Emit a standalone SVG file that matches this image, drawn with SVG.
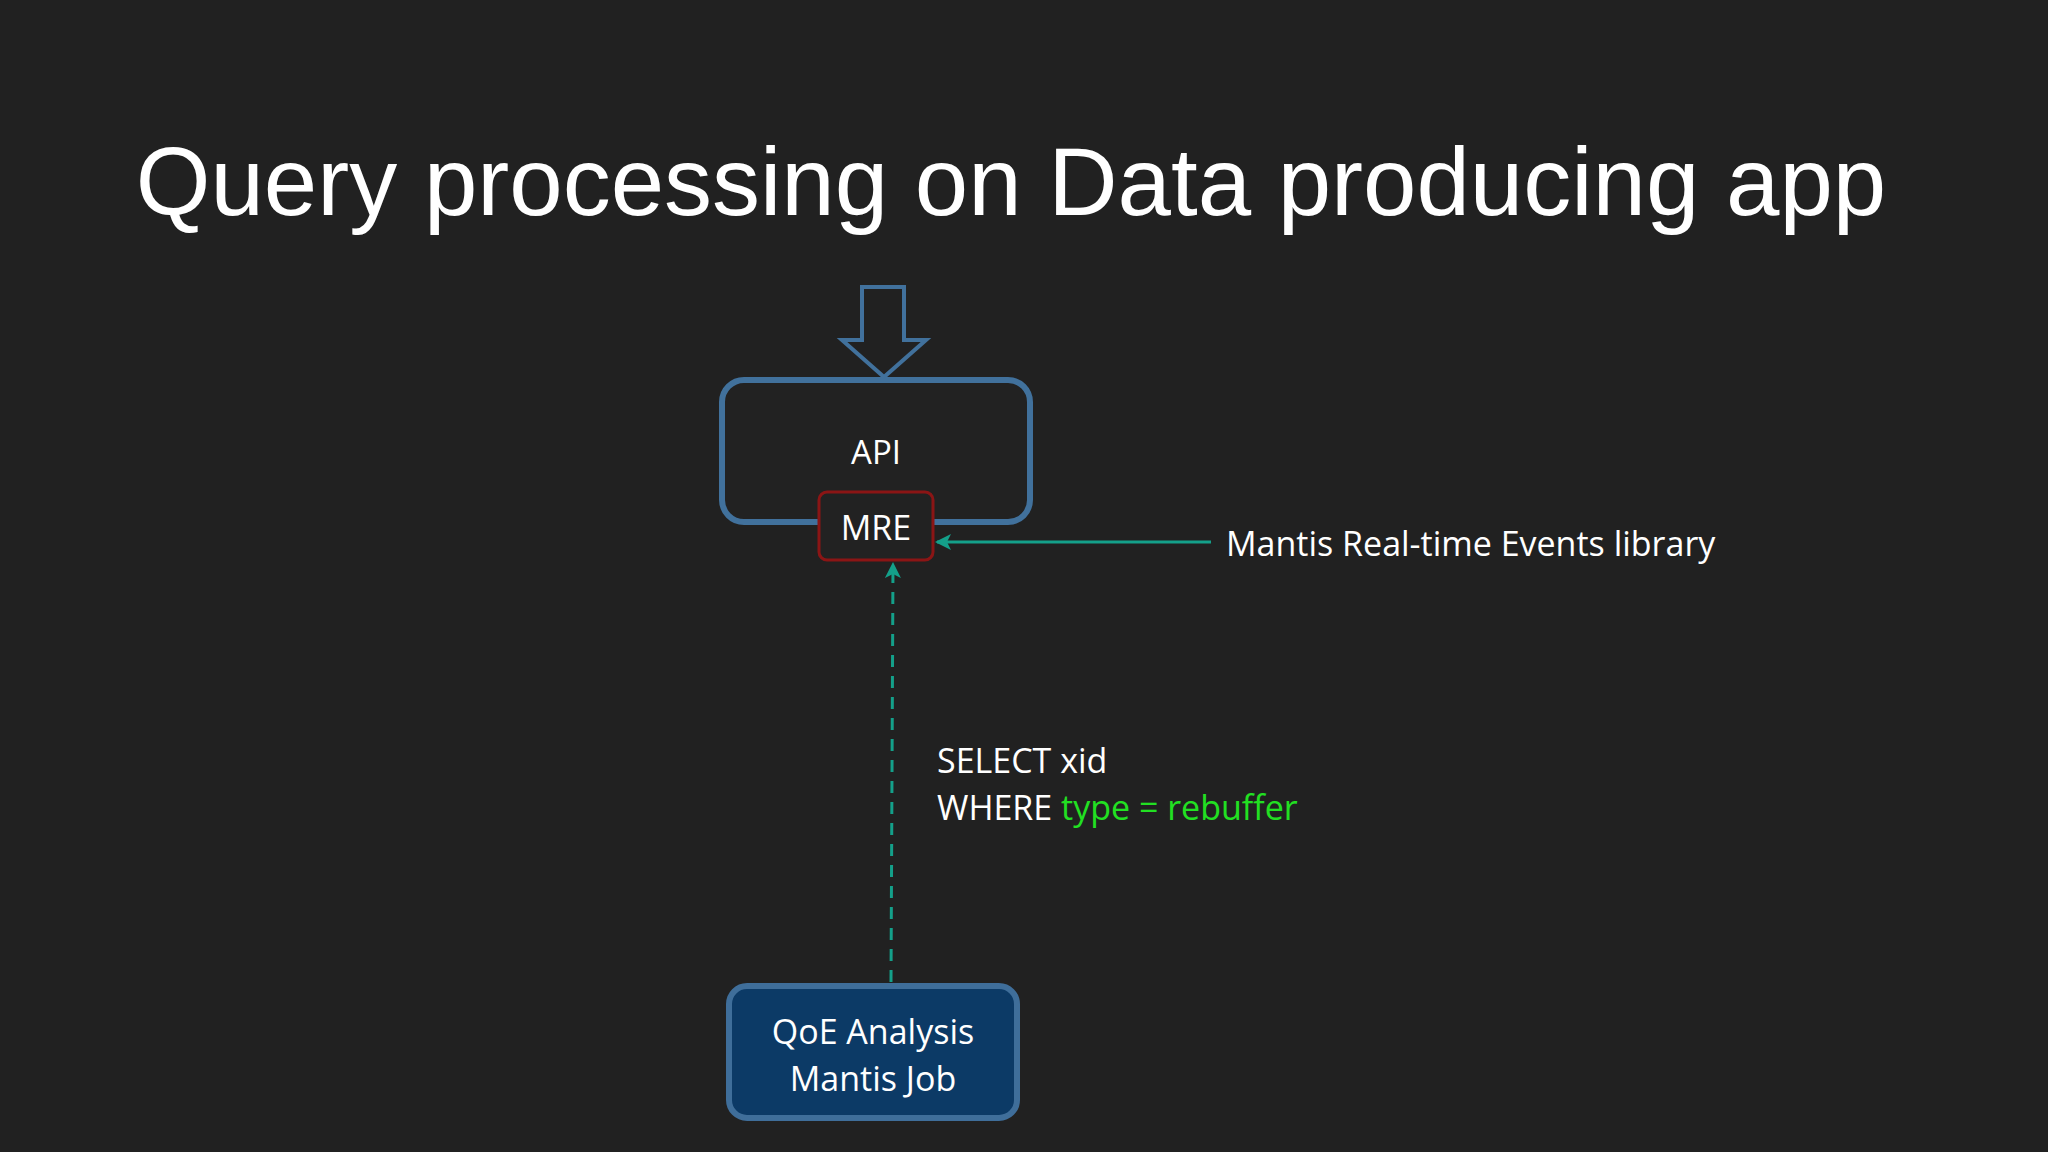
<svg xmlns="http://www.w3.org/2000/svg" width="2048" height="1152" viewBox="0 0 2048 1152">
<defs>
<style>
.t{font-family:"Open Sans","Noto Sans","Liberation Sans",sans-serif;fill:#fff}
</style>
<marker id="ah" markerWidth="10" markerHeight="10" refX="8" refY="5" orient="auto" markerUnits="userSpaceOnUse"><path d="M0,0 L10,5 L0,10 Z" fill="#14a08a"/></marker>
<marker id="ah2" markerWidth="16" markerHeight="16" refX="14" refY="8" orient="auto" markerUnits="userSpaceOnUse"><path d="M0,0 L16,8 L0,16 L4,8 Z" fill="#14a08a"/></marker>
</defs>
<rect width="2048" height="1152" fill="#212121"/>
<text x="1011" y="215" text-anchor="middle" font-family="Liberation Sans,Arial,sans-serif" font-size="96" fill="#fff">Query processing on Data producing app</text>
<g id="input-arrow"><path d="M862,287 L904,287 L904,340 L926,340 L884,377 L842,340 L862,340 Z" fill="none" stroke="#41719c" stroke-width="4"/></g>
<g id="api"><rect x="722" y="380" width="308" height="142" rx="22" fill="#222" stroke="#41719c" stroke-width="6"/><text class="t" x="876" y="464" font-size="33" text-anchor="middle">API</text></g>
<g id="mre"><rect x="819" y="492" width="114" height="68" rx="8" fill="#222" stroke="#8b1515" stroke-width="3"/><text class="t" x="876" y="540" font-size="34" text-anchor="middle">MRE</text></g>
<g id="qoe"><rect x="729" y="986" width="288" height="132" rx="18" fill="#0c3a66" stroke="#3f6e9a" stroke-width="6"/><text class="t" x="873" y="1044" font-size="34" text-anchor="middle">QoE Analysis</text><text class="t" x="873" y="1091" font-size="34" text-anchor="middle">Mantis Job</text></g>
<g id="connectors">
<line x1="1211" y1="542" x2="937" y2="542" stroke="#14a08a" stroke-width="3" marker-end="url(#ah2)"/>
<line x1="891" y1="982" x2="893" y2="564" stroke="#14a08a" stroke-width="3" stroke-dasharray="12,9" marker-end="url(#ah2)"/>
</g>
<text class="t" x="1226" y="556" font-size="34">Mantis Real-time Events library</text>
<text class="t" x="937" y="773" font-size="34">SELECT xid</text>
<text class="t" x="937" y="820" font-size="34">WHERE <tspan fill="#22e022">type = rebuffer</tspan></text>
</svg>
